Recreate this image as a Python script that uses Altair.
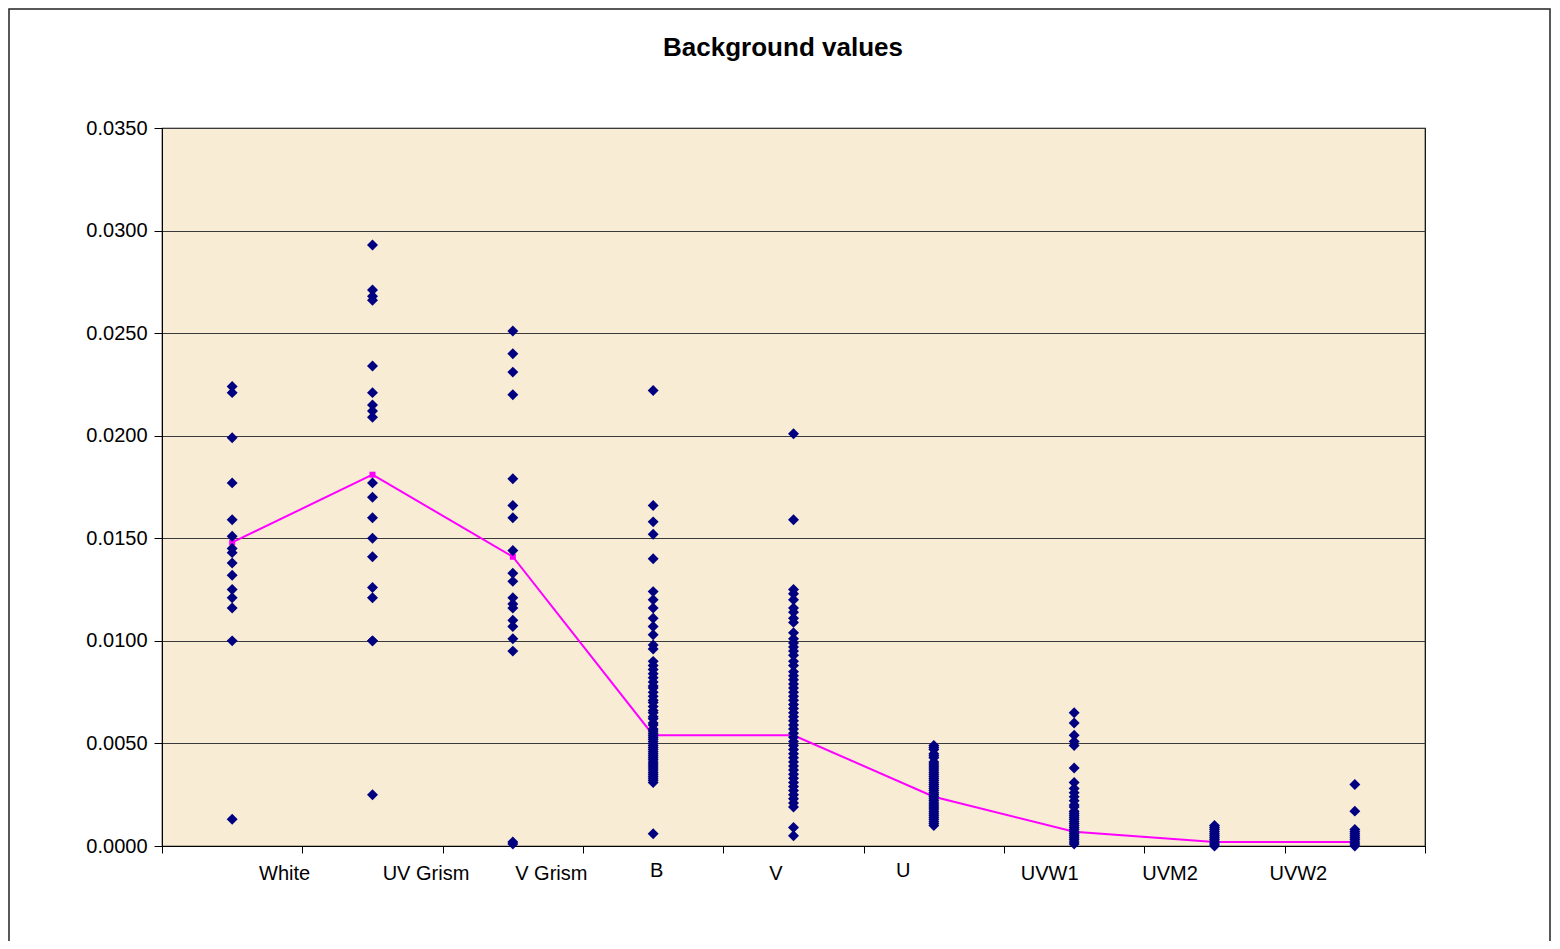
import altair as alt
import pandas as pd

categories = ["White", "UV Grism", "V Grism", "B", "V", "U", "UVW1", "UVM2", "UVW2"]

white = [0.0224, 0.0221, 0.0199, 0.0177, 0.0159, 0.0151, 0.0145, 0.0143, 0.0138,
         0.0132, 0.0125, 0.0121, 0.0116, 0.0100, 0.0013]
uv_grism = [0.0293, 0.0271, 0.0268, 0.0266, 0.0234, 0.0221, 0.0215, 0.0212, 0.0209,
            0.0177, 0.0170, 0.0160, 0.0150, 0.0141, 0.0126, 0.0121, 0.0100, 0.0100, 0.0025]
v_grism = [0.0251, 0.0240, 0.0231, 0.0220, 0.0179, 0.0166, 0.0160, 0.0144, 0.0133,
           0.0129, 0.0121, 0.0118, 0.0116, 0.0110, 0.0107, 0.0101, 0.0095, 0.0002, 0.0001]
b_vals = [0.0222, 0.0166, 0.0158, 0.0152, 0.0140, 0.0124, 0.0120, 0.0116, 0.0111,
          0.0107, 0.0103, 0.0098, 0.0096, 0.0090, 0.0088, 0.0086, 0.0084, 0.0082,
          0.0080, 0.0078, 0.0077, 0.0075, 0.0073, 0.0071, 0.0070, 0.0068, 0.0066,
          0.0065, 0.0063, 0.0062, 0.0060, 0.0059, 0.0057, 0.0056, 0.0055, 0.0054,
          0.0053, 0.0052, 0.0051, 0.0050, 0.0049, 0.0048, 0.0047, 0.0046, 0.0045,
          0.0044, 0.0043, 0.0042, 0.0041, 0.0040, 0.0039, 0.0038, 0.0037, 0.0036,
          0.0035, 0.0034, 0.0033, 0.0032, 0.0031, 0.0006]
v_vals = [0.0201, 0.0159, 0.0125, 0.0123, 0.0120, 0.0116, 0.0114, 0.0111, 0.0109,
          0.0104, 0.0101, 0.0099, 0.0097, 0.0095, 0.0093, 0.0090, 0.0088, 0.0085,
          0.0083, 0.0081, 0.0079, 0.0077, 0.0075, 0.0073, 0.0071, 0.0069, 0.0067,
          0.0065, 0.0063, 0.0061, 0.0059, 0.0057, 0.0055, 0.0053, 0.0051, 0.0049,
          0.0047, 0.0045, 0.0043, 0.0041, 0.0039, 0.0037, 0.0035, 0.0033, 0.0031,
          0.0029, 0.0027, 0.0025, 0.0023, 0.0021, 0.0019, 0.0009, 0.0005]
u_vals = [0.0049, 0.0048, 0.0047, 0.0045, 0.0044, 0.0043, 0.0041, 0.0040, 0.0039,
          0.0038, 0.0037, 0.0036, 0.0035, 0.0034, 0.0033, 0.0032, 0.0031, 0.0030,
          0.0029, 0.0028, 0.0027, 0.0026, 0.0025, 0.0024, 0.0023, 0.0022, 0.0021,
          0.0020, 0.0019, 0.0018, 0.0017, 0.0016, 0.0015, 0.0014, 0.0013, 0.0012,
          0.0011, 0.0010]
uvw1 = [0.0065, 0.0060, 0.0054, 0.0051, 0.0049, 0.0038, 0.0031, 0.0028, 0.0026,
        0.0024, 0.0022, 0.0020, 0.0019, 0.0017, 0.0016, 0.0015, 0.0014, 0.0013,
        0.0012, 0.0011, 0.0010, 0.0009, 0.0008, 0.0007, 0.0006, 0.0005, 0.0004,
        0.0003, 0.0002, 0.0001]
uvm2 = [0.0010, 0.0009, 0.0008, 0.0007, 0.0006, 0.0005, 0.0004, 0.0003, 0.0002,
        0.0001, 0.0000]
uvw2 = [0.0030, 0.0017, 0.0008, 0.0007, 0.0006, 0.0005, 0.0004, 0.0003, 0.0002,
        0.0001, 0.0000]

means = [0.0148, 0.0181, 0.0141, 0.0054, 0.0054, 0.0024, 0.0007, 0.0002, 0.0002]

title_text = ["Background values"]

series = [white, uv_grism, v_grism, b_vals, v_vals, u_vals, uvw1, uvm2, uvw2]
rows = []
for cat, vals in zip(categories, series):
    for v in vals:
        rows.append({"Filter": cat, "Background": v})
pts = pd.DataFrame(rows)
mean_df = pd.DataFrame({"Filter": categories, "Mean": means})

FONT = "Liberation Sans"

offset_expr = ("datum.value=='White'?52:datum.value=='UV Grism'?53:"
               "datum.value=='V Grism'?38:datum.value=='B'?3:"
               "datum.value=='V'?-18:datum.value=='U'?-31:"
               "datum.value=='UVW1'?-25:datum.value=='UVM2'?-45:-57")
pad_expr = "(datum.value=='B'||datum.value=='U')?7:10"

x_axis = alt.Axis(title=None, tickBand="extent", grid=False, tickSize=7,
                  tickColor="black", domainColor="black", labelAngle=0,
                  labelFont=FONT, labelFontSize=20, labelColor="black",
                  labelOffset=alt.ExprRef(offset_expr),
                  labelPadding=alt.ExprRef(pad_expr))
x_scale = alt.Scale(type="band", domain=categories, paddingInner=0, paddingOuter=0)

y_axis = alt.Axis(title=None, values=[0, 0.005, 0.01, 0.015, 0.02, 0.025, 0.03, 0.035],
                  format=".4f", grid=True, gridColor="#3a3a3a", gridWidth=1,
                  tickSize=8, tickColor="black", domainColor="black",
                  labelFont=FONT, labelFontSize=20, labelColor="black", labelPadding=7)
y_scale = alt.Scale(domain=[0, 0.035], nice=False, zero=True)

points = alt.Chart(pts).mark_point(shape="diamond", filled=True, size=120,
                                   color="#000080", opacity=1).encode(
    x=alt.X("Filter:N", sort=categories, scale=x_scale, axis=x_axis),
    y=alt.Y("Background:Q", scale=y_scale, axis=y_axis),
)

mean_line = alt.Chart(mean_df).mark_line(color="#FF00FF", strokeWidth=2,
                                         point=alt.OverlayMarkDef(shape="square", size=36,
                                                                  filled=True, color="#FF00FF")).encode(
    x=alt.X("Filter:N", sort=categories, scale=x_scale, axis=x_axis),
    y=alt.Y("Mean:Q", scale=y_scale, axis=y_axis),
)

frame = alt.Chart(pd.DataFrame({"k": [0]})).mark_rect(
    fillOpacity=0, stroke="#222222", strokeWidth=1.5).encode(
    x=alt.value(-153), x2=alt.value(1388), y=alt.value(-119), y2=alt.value(880))

title = alt.Chart(pd.DataFrame({"t": title_text})).mark_text(
    font=FONT, fontSize=26, fontWeight="bold", color="black",
    align="center", baseline="middle").encode(
    text="t:N", x=alt.value(621), y=alt.value(-80))

chart = alt.layer(frame, mean_line, points, title).properties(
    width=1263, height=718,
    autosize=alt.AutoSizeParams(type="none"),
    padding={"left": 154, "top": 120, "right": 126, "bottom": 95},
    background="white",
).configure_view(fill="#F8ECD5", stroke="black", strokeWidth=1.2)

chart.save("out.html", embed_options={"renderer": "svg", "actions": False})
